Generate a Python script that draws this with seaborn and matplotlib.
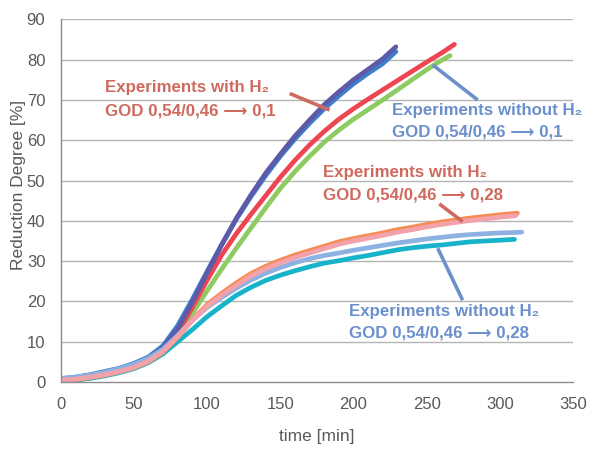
import numpy as np
import pandas as pd
import matplotlib
matplotlib.use("Agg")
import matplotlib.pyplot as plt
import seaborn as sns

# ---- data ----
purple_t = [0,10,20,30,40,50,60,70,80,90,100,110,120,130,140,150,160,170,180,190,200,210,220,229]
purple_v = [0.5,0.9,1.4,2.2,3.1,4.3,5.8,8.5,13.2,19.8,27.0,34.0,40.6,46.4,51.8,56.5,61.0,65.0,68.8,72.0,75.0,77.6,80.2,83.2]

blue_t = [0,10,20,30,40,50,60,70,80,90,100,110,120,130,140,150,160,170,180,190,200,210,220,229]
blue_v = [0.8,1.2,1.8,2.6,3.4,4.6,6.2,9.0,14.0,20.5,27.4,34.1,40.4,46.0,51.2,56.0,60.3,64.2,67.8,71.0,74.0,76.6,79.0,82.0]

red_t = [0,10,20,30,40,50,60,70,80,90,100,110,120,130,140,150,160,170,180,190,200,210,220,230,240,250,260,269]
red_v = [0.4,0.6,1.1,1.8,2.7,3.9,5.5,8.0,12.2,18.5,25.2,31.5,36.8,41.6,46.2,50.8,55.0,58.8,62.2,65.2,67.8,70.2,72.5,74.8,77.1,79.4,81.6,83.8]

green_t = [0,10,20,30,40,50,60,70,80,90,100,110,120,130,140,150,160,170,180,190,200,210,220,230,240,250,260,266]
green_v = [0.3,0.5,1.0,1.7,2.6,3.8,5.4,7.8,11.6,17.0,22.6,28.0,33.2,38.2,43.2,48.0,52.2,56.0,59.5,62.5,65.2,67.6,70.0,72.5,75.0,77.5,79.8,81.0]

pink_t = [0,10,20,30,40,50,60,70,80,90,100,110,120,130,140,150,160,170,180,190,200,210,220,230,240,250,260,270,280,290,300,311]
pink_v = [0.5,0.7,1.2,1.8,2.6,3.6,5.2,7.6,11.3,15.3,18.8,21.5,24.0,26.3,28.1,29.6,30.9,32.0,33.1,34.2,35.0,35.7,36.4,37.2,37.8,38.5,39.1,39.6,40.1,40.5,40.9,41.3]

orange_t = [0,10,20,30,40,50,60,70,80,90,100,110,120,130,140,150,160,170,180,190,200,210,220,230,240,250,260,270,280,290,300,312]
orange_v = [0.4,0.6,1.1,1.7,2.5,3.5,5.0,7.4,11.1,15.4,19.2,22.0,24.6,26.9,28.7,30.2,31.5,32.6,33.7,34.8,35.6,36.3,37.0,37.8,38.4,39.1,39.7,40.2,40.7,41.1,41.5,41.9]

lightblue_t = [0,10,20,30,40,50,60,70,80,90,100,110,120,130,140,150,160,170,180,190,200,210,220,230,240,250,260,270,280,290,300,310,315]
lightblue_v = [0.9,1.2,1.7,2.4,3.3,4.4,5.9,8.2,11.6,15.3,18.5,21.0,23.3,25.3,27.0,28.4,29.6,30.6,31.4,32.0,32.7,33.3,33.9,34.5,35.0,35.5,35.9,36.3,36.6,36.8,37.0,37.1,37.2]

cyan_t = [0,10,20,30,40,50,60,70,80,90,100,110,120,130,140,150,160,170,180,190,200,210,220,230,240,250,260,270,280,290,300,310]
cyan_v = [0.3,0.5,0.9,1.5,2.3,3.3,4.8,7.0,10.0,13.0,16.2,18.9,21.5,23.5,25.2,26.5,27.6,28.6,29.5,30.1,30.8,31.4,32.1,32.8,33.3,33.7,34.0,34.4,34.8,35.0,35.2,35.4]

series = {
    "green": (green_t, green_v),
    "red": (red_t, red_v),
    "blue": (blue_t, blue_v),
    "purple": (purple_t, purple_v),
    "cyan": (cyan_t, cyan_v),
    "lightblue": (lightblue_t, lightblue_v),
    "orange": (orange_t, orange_v),
    "pink": (pink_t, pink_v),
}
palette = {
    "green": "#8ecb62",
    "red": "#ee4552",
    "blue": "#3d7fcb",
    "purple": "#5d5aa8",
    "cyan": "#17b3cb",
    "lightblue": "#8db2e2",
    "orange": "#f68c52",
    "pink": "#f3a2ab",
}
x_ticks = [0, 50, 100, 150, 200, 250, 300, 350]
y_ticks = [0, 10, 20, 30, 40, 50, 60, 70, 80, 90]

rows = []
for name, (t, v) in series.items():
    for ti, vi in zip(t, v):
        rows.append((name, ti, vi))
df = pd.DataFrame(rows, columns=["series", "time", "value"])

sns.set_theme(style="white")
plt.rcParams["font.family"] = ["Liberation Sans", "DejaVu Sans"]

fig = plt.figure(figsize=(6.0, 4.51), dpi=100)
ax = fig.add_axes([0.101, 0.153, 0.854, 0.804])

grey = "#8c8c8c"
for yv in y_ticks[1:]:
    ax.axhline(yv, color="#b4b4b4", lw=1.0, zorder=0)

sns.lineplot(data=df, x="time", y="value", hue="series", hue_order=list(series.keys()),
             palette=palette, linewidth=3.4, legend=False, estimator=None, sort=False, ax=ax)

ax.set_xlim(0, 350)
ax.set_ylim(0, 90)
ax.set_xticks(x_ticks)
ax.set_yticks(y_ticks)
ax.tick_params(axis="both", direction="out", length=5, width=1, color=grey,
               labelsize=12, labelcolor="#595959", pad=6)
for s in ["top", "right"]:
    ax.spines[s].set_visible(False)
for s in ["left", "bottom"]:
    ax.spines[s].set_color(grey)
    ax.spines[s].set_linewidth(1)
ax.grid(False)

ax.set_xlabel("time [min]", fontsize=12.5, color="#595959", labelpad=12)
ax.set_ylabel("Reduction Degree [%]", fontsize=12.5, color="#595959")
ax.yaxis.set_label_coords(-0.068, 0.543)

red_txt = "#cf6a5f"
blue_txt = "#6b90cc"
fs = 12.2
kw = dict(fontsize=fs, fontweight="bold", ha="left", va="center")
arrow = "⟶"

# annotations
ax.text(30.2, 73.0, "Experiments with H₂", color=red_txt, **kw)
ax.text(30.2, 67.2, f"GOD 0,54/0,46 {arrow} 0,1", color=red_txt, **kw)
ax.plot([156.5, 183.7], [71.6, 67.5], color=red_txt, lw=2.6, solid_capstyle="butt")

ax.text(226.5, 67.5, "Experiments without H₂", color=blue_txt, **kw)
ax.text(226.5, 62.0, f"GOD 0,54/0,46 {arrow} 0,1", color=blue_txt, **kw)
ax.plot([254.2, 284.9], [78.7, 70.0], color=blue_txt, lw=2.6, solid_capstyle="butt")

ax.text(178.9, 52.1, "Experiments with H₂", color=red_txt, **kw)
ax.text(178.9, 46.5, f"GOD 0,54/0,46 {arrow} 0,28", color=red_txt, **kw)
ax.plot([258.7, 274.6], [44.2, 39.8], color=red_txt, lw=2.6, solid_capstyle="butt")

ax.text(196.9, 17.6, "Experiments without H₂", color=blue_txt, **kw)
ax.text(196.9, 12.2, f"GOD 0,54/0,46 {arrow} 0,28", color=blue_txt, **kw)
ax.plot([257.6, 274.6], [33.2, 20.3], color=blue_txt, lw=2.6, solid_capstyle="butt")

fig.savefig("out.png", dpi=100)
